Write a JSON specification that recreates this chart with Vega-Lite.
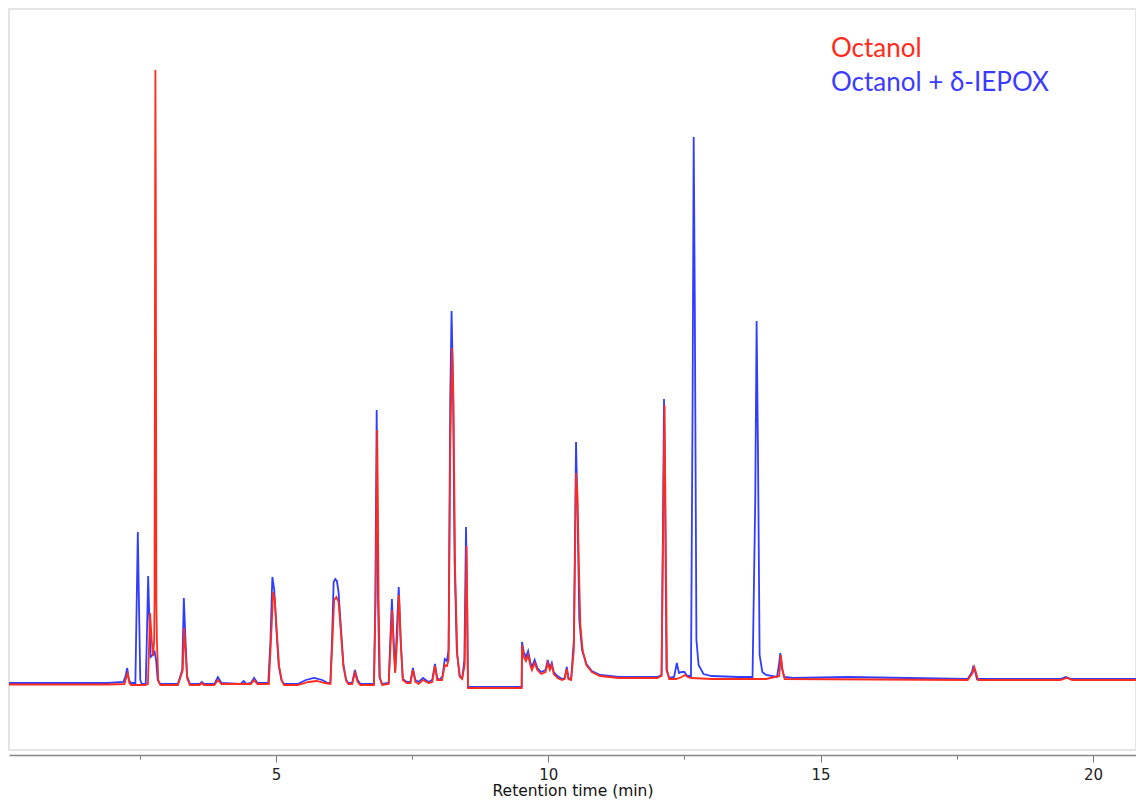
{
  "$schema": "https://vega.github.io/schema/vega-lite/v6.json",
  "width": 1127,
  "height": 741,
  "autosize": "none",
  "padding": {"left": 9, "top": 9, "right": 0, "bottom": 50},
  "background": "white",
  "config": {"view": {"stroke": "#e4e4e4", "strokeWidth": 2}},
  "datasets": {
    "blue": [
      {"t":0.10,"v":67},{"t":1.90,"v":67},{"t":2.20,"v":68},{"t":2.24,"v":74},{"t":2.27,"v":82},{"t":2.30,"v":70},{"t":2.34,"v":67},{"t":2.42,"v":67},{"t":2.445,"v":150},{"t":2.465,"v":218},{"t":2.485,"v":150},{"t":2.51,"v":70},{"t":2.54,"v":66},{"t":2.61,"v":66},{"t":2.63,"v":110},{"t":2.655,"v":174},{"t":2.675,"v":135},{"t":2.70,"v":93},{"t":2.74,"v":95},{"t":2.775,"v":98},{"t":2.80,"v":90},{"t":2.83,"v":70},{"t":2.87,"v":66},{"t":3.20,"v":66},{"t":3.28,"v":80},{"t":3.31,"v":152},{"t":3.34,"v":110},{"t":3.37,"v":74},{"t":3.42,"v":66},{"t":3.60,"v":66},{"t":3.64,"v":68},{"t":3.68,"v":66},{"t":3.87,"v":66},{"t":3.935,"v":73},{"t":4.00,"v":67},{"t":4.35,"v":66},{"t":4.41,"v":69},{"t":4.46,"v":66},{"t":4.54,"v":67},{"t":4.60,"v":72},{"t":4.66,"v":67},{"t":4.86,"v":67},{"t":4.90,"v":110},{"t":4.935,"v":173},{"t":4.97,"v":160},{"t":5.01,"v":120},{"t":5.05,"v":85},{"t":5.10,"v":70},{"t":5.15,"v":66},{"t":5.40,"v":66},{"t":5.55,"v":70},{"t":5.70,"v":72},{"t":5.85,"v":70},{"t":5.95,"v":67},{"t":6.00,"v":67},{"t":6.03,"v":110},{"t":6.06,"v":168},{"t":6.09,"v":171},{"t":6.12,"v":169},{"t":6.15,"v":158},{"t":6.19,"v":125},{"t":6.24,"v":85},{"t":6.29,"v":70},{"t":6.33,"v":67},{"t":6.40,"v":67},{"t":6.45,"v":80},{"t":6.50,"v":70},{"t":6.55,"v":66},{"t":6.80,"v":66},{"t":6.825,"v":150},{"t":6.85,"v":340},{"t":6.875,"v":150},{"t":6.90,"v":73},{"t":6.95,"v":66},{"t":7.07,"v":67},{"t":7.10,"v":110},{"t":7.13,"v":151},{"t":7.16,"v":110},{"t":7.19,"v":78},{"t":7.22,"v":120},{"t":7.255,"v":163},{"t":7.29,"v":110},{"t":7.33,"v":71},{"t":7.40,"v":68},{"t":7.47,"v":68},{"t":7.515,"v":82},{"t":7.56,"v":70},{"t":7.62,"v":68},{"t":7.70,"v":72},{"t":7.75,"v":70},{"t":7.80,"v":68},{"t":7.87,"v":70},{"t":7.92,"v":86},{"t":7.96,"v":72},{"t":8.00,"v":70},{"t":8.06,"v":74},{"t":8.10,"v":91},{"t":8.14,"v":89},{"t":8.17,"v":100},{"t":8.20,"v":350},{"t":8.225,"v":439},{"t":8.25,"v":370},{"t":8.28,"v":190},{"t":8.32,"v":100},{"t":8.37,"v":74},{"t":8.42,"v":72},{"t":8.46,"v":90},{"t":8.49,"v":223},{"t":8.51,"v":150},{"t":8.525,"v":63},{"t":9.512,"v":63},{"t":9.518,"v":108},{"t":9.55,"v":98},{"t":9.59,"v":93},{"t":9.63,"v":99},{"t":9.67,"v":88},{"t":9.70,"v":83},{"t":9.75,"v":90},{"t":9.80,"v":82},{"t":9.87,"v":78},{"t":9.95,"v":80},{"t":9.99,"v":90},{"t":10.03,"v":82},{"t":10.065,"v":87},{"t":10.10,"v":78},{"t":10.17,"v":74},{"t":10.25,"v":71},{"t":10.30,"v":72},{"t":10.34,"v":83},{"t":10.37,"v":72},{"t":10.42,"v":71},{"t":10.47,"v":110},{"t":10.51,"v":308},{"t":10.54,"v":230},{"t":10.57,"v":130},{"t":10.62,"v":100},{"t":10.70,"v":86},{"t":10.80,"v":79},{"t":10.95,"v":75},{"t":11.30,"v":73},{"t":12.00,"v":73},{"t":12.08,"v":75},{"t":12.11,"v":250},{"t":12.125,"v":351},{"t":12.145,"v":250},{"t":12.17,"v":80},{"t":12.22,"v":72},{"t":12.31,"v":73},{"t":12.36,"v":87},{"t":12.40,"v":77},{"t":12.45,"v":78},{"t":12.50,"v":78},{"t":12.55,"v":74},{"t":12.62,"v":74},{"t":12.65,"v":350},{"t":12.67,"v":613},{"t":12.69,"v":450},{"t":12.72,"v":110},{"t":12.76,"v":85},{"t":12.85,"v":76},{"t":13.00,"v":74},{"t":13.50,"v":73},{"t":13.75,"v":73},{"t":13.80,"v":250},{"t":13.825,"v":429},{"t":13.85,"v":300},{"t":13.88,"v":95},{"t":13.93,"v":78},{"t":14.00,"v":75},{"t":14.20,"v":73},{"t":14.235,"v":85},{"t":14.26,"v":97},{"t":14.29,"v":82},{"t":14.33,"v":73},{"t":14.50,"v":72},{"t":15.50,"v":73},{"t":17.70,"v":71},{"t":17.78,"v":78},{"t":17.80,"v":83},{"t":17.83,"v":80},{"t":17.87,"v":71},{"t":19.40,"v":71},{"t":19.50,"v":73},{"t":19.60,"v":71},{"t":20.79,"v":71}
    ],
    "red": [
      {"t":0.10,"v":65.5},{"t":1.90,"v":65.5},{"t":2.22,"v":66},{"t":2.26,"v":74},{"t":2.28,"v":77},{"t":2.31,"v":67},{"t":2.34,"v":65},{"t":2.60,"v":65},{"t":2.65,"v":66},{"t":2.69,"v":137},{"t":2.72,"v":110},{"t":2.745,"v":94},{"t":2.765,"v":110},{"t":2.772,"v":150},{"t":2.782,"v":550},{"t":2.788,"v":680},{"t":2.795,"v":550},{"t":2.805,"v":150},{"t":2.815,"v":110},{"t":2.84,"v":70},{"t":2.88,"v":65},{"t":3.20,"v":65},{"t":3.29,"v":80},{"t":3.315,"v":122},{"t":3.34,"v":100},{"t":3.37,"v":72},{"t":3.42,"v":65},{"t":3.60,"v":65},{"t":3.64,"v":67},{"t":3.68,"v":65},{"t":3.87,"v":65},{"t":3.935,"v":70},{"t":4.00,"v":66},{"t":4.54,"v":66},{"t":4.60,"v":70},{"t":4.66,"v":66},{"t":4.87,"v":66},{"t":4.91,"v":110},{"t":4.95,"v":158},{"t":4.98,"v":150},{"t":5.02,"v":115},{"t":5.06,"v":83},{"t":5.11,"v":69},{"t":5.15,"v":65},{"t":5.40,"v":65},{"t":5.60,"v":68},{"t":5.75,"v":69},{"t":5.90,"v":67},{"t":6.00,"v":66},{"t":6.03,"v":100},{"t":6.07,"v":150},{"t":6.11,"v":153},{"t":6.15,"v":148},{"t":6.19,"v":120},{"t":6.24,"v":83},{"t":6.29,"v":69},{"t":6.33,"v":66},{"t":6.40,"v":66},{"t":6.45,"v":77},{"t":6.50,"v":68},{"t":6.55,"v":65},{"t":6.80,"v":65},{"t":6.83,"v":150},{"t":6.86,"v":320},{"t":6.885,"v":150},{"t":6.91,"v":72},{"t":6.95,"v":65},{"t":7.07,"v":66},{"t":7.10,"v":100},{"t":7.135,"v":140},{"t":7.165,"v":100},{"t":7.19,"v":77},{"t":7.225,"v":110},{"t":7.26,"v":155},{"t":7.295,"v":105},{"t":7.33,"v":70},{"t":7.40,"v":67},{"t":7.47,"v":67},{"t":7.515,"v":80},{"t":7.56,"v":68},{"t":7.62,"v":66},{"t":7.70,"v":70},{"t":7.80,"v":67},{"t":7.87,"v":68},{"t":7.92,"v":84},{"t":7.96,"v":70},{"t":8.05,"v":70},{"t":8.10,"v":85},{"t":8.14,"v":84},{"t":8.17,"v":90},{"t":8.20,"v":300},{"t":8.235,"v":402},{"t":8.26,"v":350},{"t":8.29,"v":180},{"t":8.33,"v":95},{"t":8.38,"v":73},{"t":8.42,"v":71},{"t":8.465,"v":85},{"t":8.50,"v":204},{"t":8.515,"v":130},{"t":8.527,"v":62},{"t":9.512,"v":62},{"t":9.518,"v":105},{"t":9.55,"v":93},{"t":9.59,"v":89},{"t":9.63,"v":95},{"t":9.67,"v":85},{"t":9.70,"v":80},{"t":9.75,"v":87},{"t":9.80,"v":80},{"t":9.87,"v":76},{"t":9.95,"v":78},{"t":9.99,"v":87},{"t":10.03,"v":80},{"t":10.065,"v":85},{"t":10.10,"v":76},{"t":10.17,"v":72},{"t":10.25,"v":70},{"t":10.30,"v":71},{"t":10.34,"v":81},{"t":10.37,"v":71},{"t":10.42,"v":70},{"t":10.47,"v":100},{"t":10.51,"v":277},{"t":10.535,"v":257},{"t":10.56,"v":190},{"t":10.59,"v":125},{"t":10.63,"v":100},{"t":10.70,"v":85},{"t":10.80,"v":78},{"t":10.95,"v":74},{"t":11.30,"v":72},{"t":12.00,"v":72},{"t":12.08,"v":74},{"t":12.11,"v":230},{"t":12.135,"v":345},{"t":12.16,"v":190},{"t":12.18,"v":80},{"t":12.22,"v":71},{"t":12.35,"v":71},{"t":12.45,"v":73},{"t":12.51,"v":75},{"t":12.56,"v":73},{"t":12.62,"v":72},{"t":13.00,"v":71},{"t":14.00,"v":71},{"t":14.24,"v":74},{"t":14.27,"v":95},{"t":14.30,"v":80},{"t":14.34,"v":71},{"t":17.70,"v":70},{"t":17.79,"v":77},{"t":17.82,"v":83},{"t":17.85,"v":78},{"t":17.89,"v":70},{"t":19.40,"v":70},{"t":19.52,"v":72},{"t":19.62,"v":70},{"t":20.79,"v":70}
    ]
  },
  "encoding": {
    "x": {
      "field": "t", "type": "quantitative",
      "scale": {"domain": [0.1, 20.79], "nice": false, "zero": false},
      "axis": {
        "orient": "bottom",
        "offset": 5,
        "grid": false,
        "values": [2.5, 5, 7.5, 10, 12.5, 15, 17.5, 20],
        "labelExpr": "datum.value % 5 === 0 ? datum.label : ''",
        "domainColor": "#888888",
        "domainWidth": 1.5,
        "tickColor": "#777777",
        "tickWidth": 1,
        "tickSize": {"condition": {"test": "datum.value % 5 === 0", "value": 7}, "value": 4},
        "labelFont": "DejaVu Sans",
        "labelFontSize": 15,
        "labelColor": "#222222",
        "labelPadding": 5,
        "title": "Retention time (min)",
        "titleFont": "DejaVu Sans",
        "titleFontSize": 15.5,
        "titleFontWeight": "normal",
        "titleColor": "#111111",
        "titlePadding": 1
      }
    },
    "y": {
      "field": "v", "type": "quantitative",
      "scale": {"domain": [0, 741], "nice": false, "zero": false},
      "axis": null
    }
  },
  "layer": [
    {
      "data": {"name": "blue"},
      "mark": {"type": "line", "color": "#2f3dff", "strokeWidth": 1.8}
    },
    {
      "data": {"name": "red"},
      "mark": {"type": "line", "color": "#ff2b1c", "strokeWidth": 1.8}
    },
    {
      "data": {"values": [{"label": "Octanol", "t": 15.19, "v": 693}]},
      "mark": {"type": "text", "align": "left", "baseline": "alphabetic", "font": "Lato", "fontSize": 26, "color": "#ff2a1a"},
      "encoding": {"text": {"field": "label", "type": "nominal"}}
    },
    {
      "data": {"values": [{"label": "Octanol + δ-IEPOX", "t": 15.19, "v": 659}]},
      "mark": {"type": "text", "align": "left", "baseline": "alphabetic", "font": "Lato", "fontSize": 26, "color": "#3b3bff"},
      "encoding": {"text": {"field": "label", "type": "nominal"}}
    }
  ]
}
